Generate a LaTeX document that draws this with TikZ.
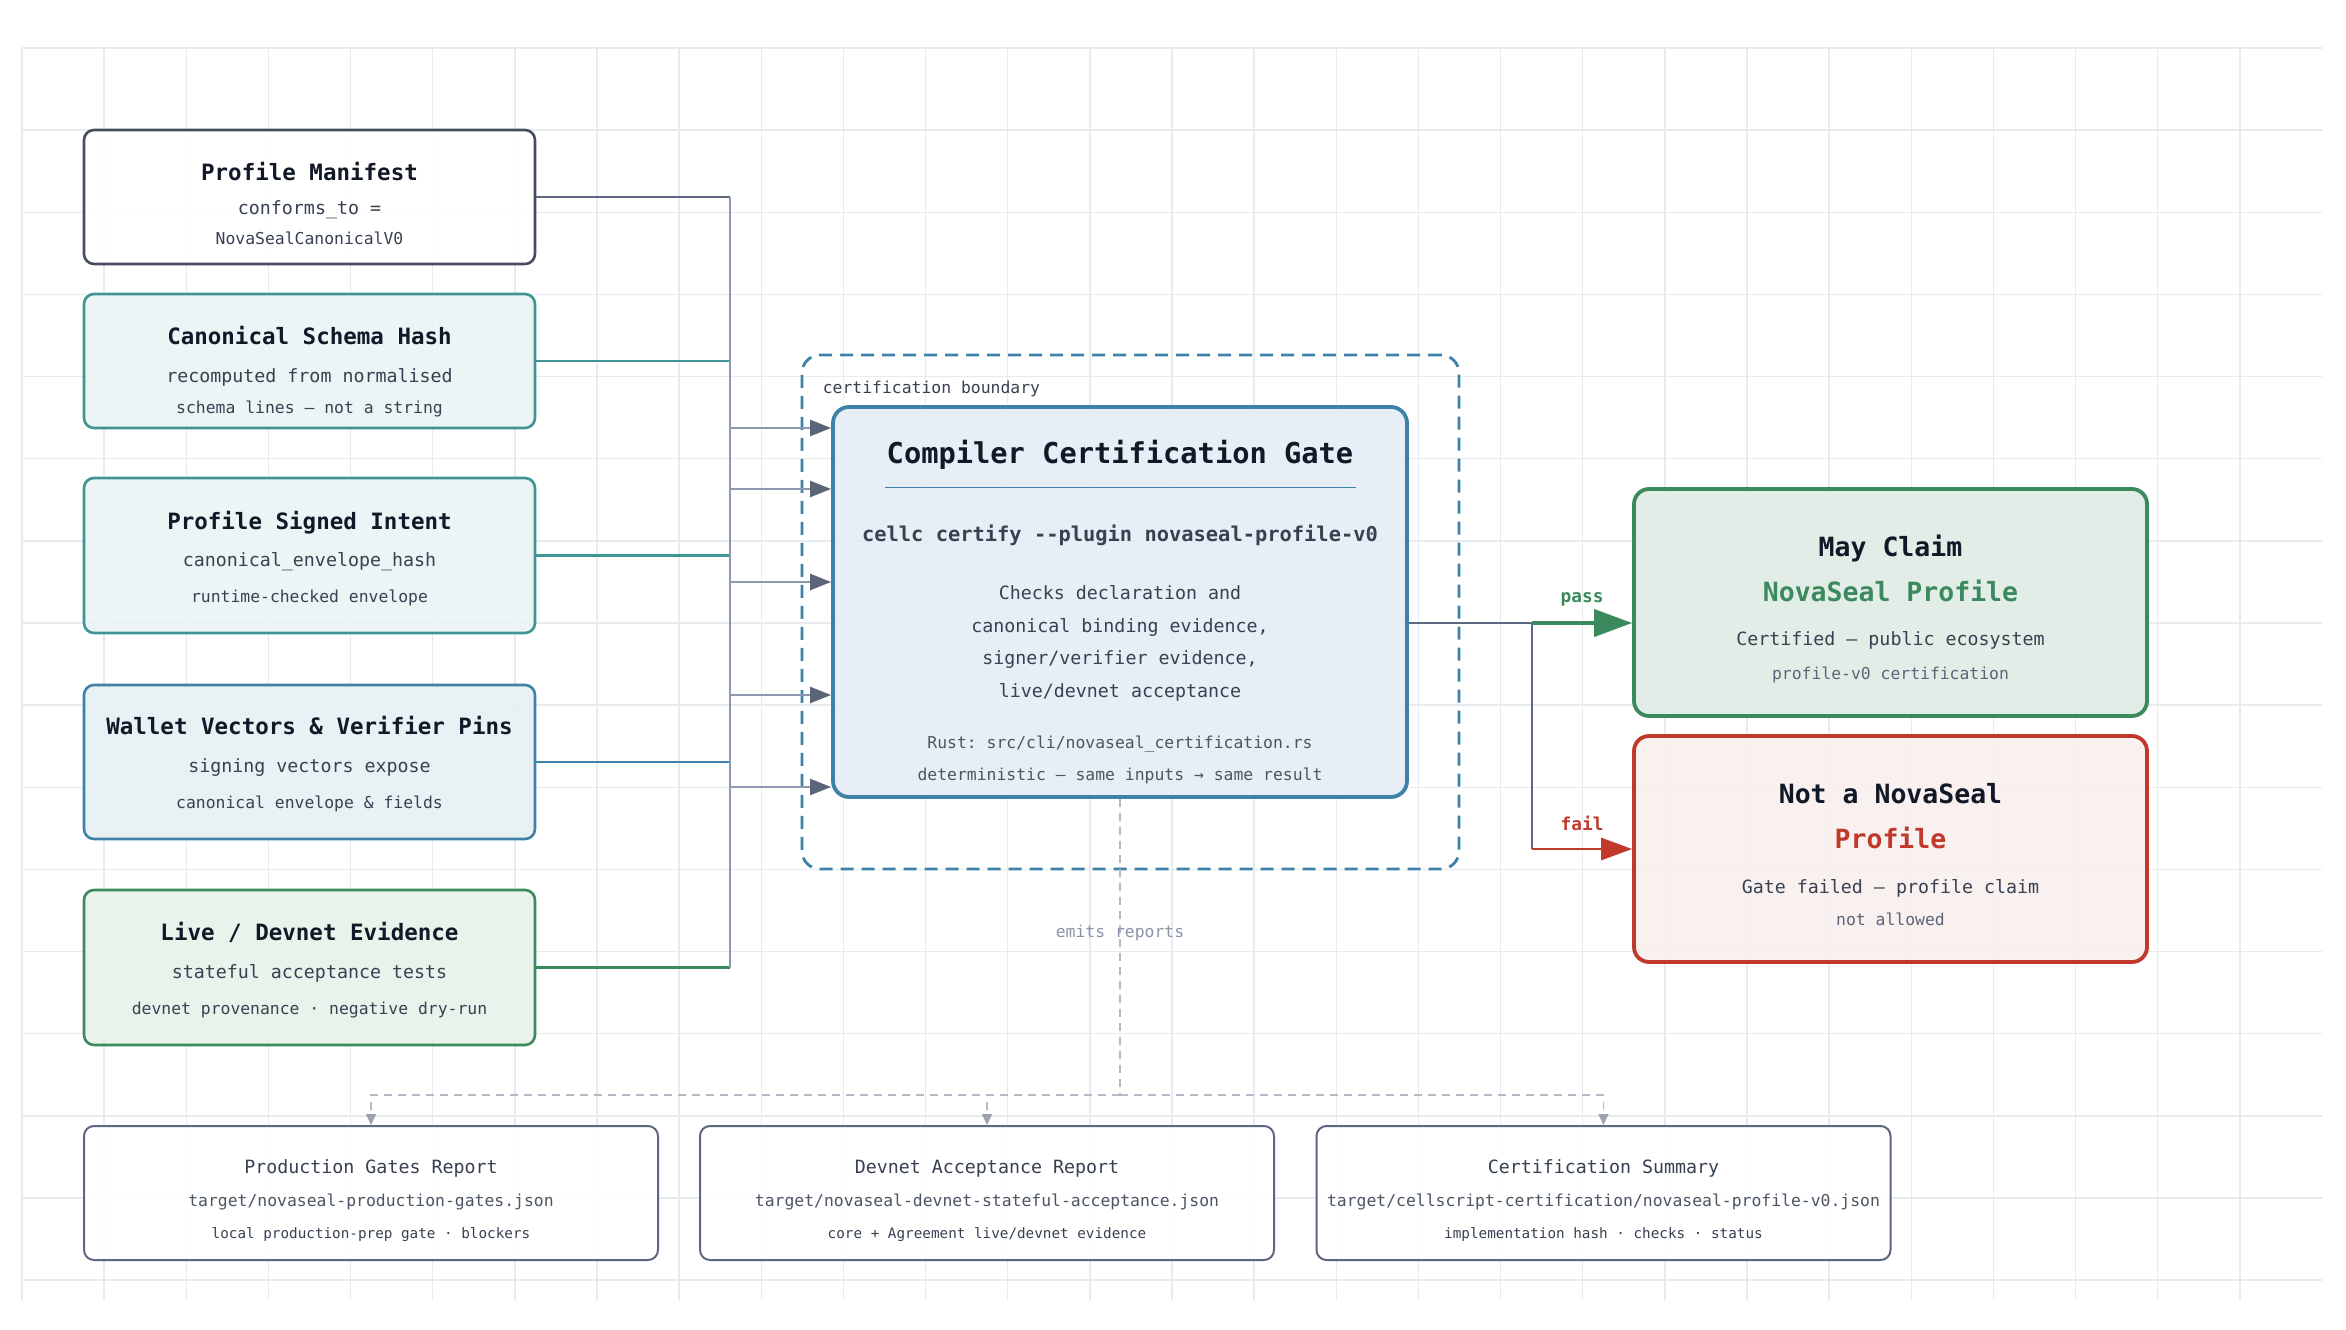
\documentclass[tikz,border=0pt]{standalone}
\usepackage{fontspec}
\setmonofont{DejaVu Sans Mono}
\usepackage{tikz}
\usetikzlibrary{positioning, arrows.meta, calc}

\definecolor{ink}{HTML}{111827}
\definecolor{slate}{HTML}{374151}
\definecolor{muted}{HTML}{4B5563}
\definecolor{soft}{HTML}{5B6478}
\definecolor{faint}{HTML}{8A93A8}
\definecolor{gridc}{HTML}{E7EBEF}
\definecolor{frame}{HTML}{464D5F}
\definecolor{tealline}{HTML}{3F9593}
\definecolor{tealfill}{HTML}{EAF3F4}
\definecolor{blueline}{HTML}{3E82A8}
\definecolor{bluefill}{HTML}{E8F0F5}
\definecolor{gatefill}{HTML}{E5EDF5}
\definecolor{greenline}{HTML}{3B8A5E}
\definecolor{greenfill}{HTML}{E8F1EB}
\definecolor{claimfill}{HTML}{E1ECE5}
\definecolor{redline}{HTML}{C0392B}
\definecolor{redfill}{HTML}{F9F0EF}
\definecolor{busc}{HTML}{8D97AF}
\definecolor{headc}{HTML}{5B6479}
\definecolor{wirec}{HTML}{5E6780}
\definecolor{dashc}{HTML}{B5BAC6}
\definecolor{tipc}{HTML}{9CA3AF}

\begin{document}
\begin{tikzpicture}[
  x=1pt, y=-1pt, font=\ttfamily,
  gridline/.style={draw=gridc, line width=1.4pt},
  card/.style={draw, rounded corners=10pt, line width=2.6pt,
    minimum width=451pt, fill opacity=0.9},
  gatebox/.style={draw=blueline, fill=gatefill, fill opacity=0.92,
    line width=3.8pt, rounded corners=16pt, minimum width=574pt,
    minimum height=390pt},
  boundary/.style={draw=blueline, line width=2.8pt,
    dash pattern=on 13pt off 8pt, rounded corners=18pt,
    minimum width=657pt, minimum height=514pt},
  outcome/.style={line width=3.8pt, rounded corners=15pt,
    minimum width=513pt, fill opacity=0.92},
  report/.style={draw=wirec, fill=white, fill opacity=0.9, line width=2pt,
    rounded corners=10pt, minimum width=574pt, minimum height=134pt},
  hd/.style={anchor=base, inner sep=0pt, text=ink,
    font=\ttfamily\bfseries\fontsize{22.5}{27}\selectfont},
  big/.style={anchor=base, inner sep=0pt, text=ink,
    font=\ttfamily\bfseries\fontsize{26.5}{32}\selectfont},
  gttl/.style={anchor=base, inner sep=0pt, text=ink,
    font=\ttfamily\bfseries\fontsize{28.7}{34}\selectfont},
  cmd/.style={anchor=base, inner sep=0pt, text=slate,
    font=\ttfamily\bfseries\fontsize{20.4}{24}\selectfont},
  sub/.style={anchor=base, inner sep=0pt, text=slate,
    font=\ttfamily\fontsize{18.3}{22}\selectfont},
  fine/.style={anchor=base, inner sep=0pt, text=slate,
    font=\ttfamily\fontsize{16.4}{20}\selectfont},
  micro/.style={anchor=base, inner sep=0pt, text=slate,
    font=\ttfamily\fontsize{14.3}{17}\selectfont},
  flag/.style={inner sep=0pt, font=\ttfamily\bfseries\fontsize{17.8}{21}\selectfont},
  link/.style={line width=2.2pt},
  busline/.style={draw=busc, line width=2.4pt},
  feed/.style={draw=busc, line width=2.2pt,
    -{Triangle[length=21pt, width=16pt, color=headc]}},
  wire/.style={draw=wirec, line width=2.6pt},
  passarrow/.style={draw=greenline, line width=4pt,
    -{Triangle[length=38pt, width=27pt]}},
  failarrow/.style={draw=redline, line width=2.8pt,
    -{Triangle[length=31pt, width=22pt]}},
  emit/.style={draw=dashc, line width=1.6pt, dash pattern=on 8pt off 6pt},
  emittip/.style={-{Triangle[length=11pt, width=10pt, color=tipc]}},
]
  % backdrop and grid
  \fill[white] (0,0) rectangle (2346,1330);
  \useasboundingbox (0,0) rectangle (2346,1330);
  \foreach \i in {0,...,27}
    \draw[gridline] ({22+82.14*\i},48) -- ({22+82.14*\i},1300);
  \foreach \j in {0,...,15}
    \draw[gridline] (22,{48+82.14*\j}) -- (2322,{48+82.14*\j});

  % certification boundary
  \node[boundary] (bnd) at (1130.5,612) {};
  \node[fine, anchor=base west] (bnd-l) at ($(bnd.north west)+(22,40)$)
    {certification boundary};

  % evidence inputs
  \node[card, draw=frame, fill=white, minimum height=134pt] (pm) at (309.5,197) {};
  \node[hd] (pm-t) at ($(pm.north)+(0,52)$) {Profile Manifest};
  \node[sub] (pm-a) at ($(pm.north)+(0,86)$) {conforms\_to =};
  \node[fine] (pm-b) at ($(pm.north)+(0,116)$) {NovaSealCanonicalV0};

  \node[card, draw=tealline, fill=tealfill, minimum height=134pt] (csh) at (309.5,361) {};
  \node[hd] (csh-t) at ($(csh.north)+(0,52)$) {Canonical Schema Hash};
  \node[sub] (csh-a) at ($(csh.north)+(0,90)$) {recomputed from normalised};
  \node[fine] (csh-b) at ($(csh.north)+(0,121)$) {schema lines — not a string};

  \node[card, draw=tealline, fill=tealfill, minimum height=155pt] (psi) at (309.5,555.5) {};
  \node[hd] (psi-t) at ($(psi.north)+(0,53)$) {Profile Signed Intent};
  \node[sub] (psi-a) at ($(psi.north)+(0,90)$) {canonical\_envelope\_hash};
  \node[fine] (psi-b) at ($(psi.north)+(0,126)$) {runtime-checked envelope};

  \node[card, draw=blueline, fill=bluefill, minimum height=154pt] (wvp) at (309.5,762) {};
  \node[hd] (wvp-t) at ($(wvp.north)+(0,51)$) {Wallet Vectors \& Verifier Pins};
  \node[sub] (wvp-a) at ($(wvp.north)+(0,89)$) {signing vectors expose};
  \node[fine] (wvp-b) at ($(wvp.north)+(0,125)$) {canonical envelope \& fields};

  \node[card, draw=greenline, fill=greenfill, minimum height=155pt] (lde) at (309.5,967.5) {};
  \node[hd] (lde-t) at ($(lde.north)+(0,52)$) {Live / Devnet Evidence};
  \node[sub] (lde-a) at ($(lde.north)+(0,90)$) {stateful acceptance tests};
  \node[fine] (lde-b) at ($(lde.north)+(0,126)$) {devnet provenance · negative dry-run};

  % collector bus
  \coordinate (bus) at (730,0);
  \draw[link, draw=wirec] (pm.east) -- (pm.east -| bus);
  \draw[link, draw=tealline] (csh.east) -- (csh.east -| bus);
  \draw[link, draw=tealline] (psi.east) -- (psi.east -| bus);
  \draw[link, draw=blueline] (wvp.east) -- (wvp.east -| bus);
  \draw[link, draw=greenline] (lde.east) -- (lde.east -| bus);
  \draw[busline] (pm.east -| bus) -- (lde.east -| bus);

  % the gate
  \node[gatebox] (gate) at (1120,602) {};
  \node[gttl] (gate-t) at ($(gate.north)+(0,58)$) {Compiler Certification Gate};
  \draw[blueline, line width=1pt] ($(gate.north)+(-235.5,82)$) -- ($(gate.north)+(235.5,82)$);
  \node[cmd] (gate-c) at ($(gate.north)+(0,136)$) {cellc certify -{}-plugin novaseal-profile-v0};
  \node[sub] (gate-b1) at ($(gate.north)+(0,194)$) {Checks declaration and};
  \node[sub] (gate-b2) at ($(gate.north)+(0,227)$) {canonical binding evidence,};
  \node[sub] (gate-b3) at ($(gate.north)+(0,259)$) {signer/verifier evidence,};
  \node[sub] (gate-b4) at ($(gate.north)+(0,292)$) {live/devnet acceptance};
  \node[fine, text=muted] (gate-f1) at ($(gate.north)+(0,343)$) {Rust: src/cli/novaseal\_certification.rs};
  \node[fine, text=muted] (gate-f2) at ($(gate.north)+(0,375)$) {deterministic — same inputs → same result};

  \foreach \y [count=\i] in {428,489,582,695,787}
    \coordinate (in\i) at (730,\y);
  \foreach \i in {1,...,5}
    \draw[feed] (in\i) -- (in\i -| gate.west);

  % outcomes
  \node[outcome, draw=greenline, fill=claimfill, minimum height=227pt] (may) at (1890.5,602.5) {};
  \node[big] (may-t) at ($(may.north)+(0,69)$) {May Claim};
  \node[big, text=greenline] (may-s) at ($(may.north)+(0,114)$) {NovaSeal Profile};
  \node[sub] (may-a) at ($(may.north)+(0,158)$) {Certified — public ecosystem};
  \node[fine, text=soft] (may-b) at ($(may.north)+(0,192)$) {profile-v0 certification};

  \node[outcome, draw=redline, fill=redfill, minimum height=226pt] (nf) at (1890.5,849) {};
  \node[big] (nf-t) at ($(nf.north)+(0,69)$) {Not a NovaSeal};
  \node[big, text=redline] (nf-s) at ($(nf.north)+(0,114)$) {Profile};
  \node[sub] (nf-a) at ($(nf.north)+(0,159)$) {Gate failed — profile claim};
  \node[fine, text=soft] (nf-b) at ($(nf.north)+(0,191)$) {not allowed};

  \coordinate (split) at (1532,623);
  \draw[wire] (split -| gate.east) -- (split) -- (split |- nf.west);
  \draw[passarrow] (split) -- node[flag, above=15pt, text=greenline] (pass-l) {pass} (split -| may.west);
  \draw[failarrow] (split |- nf.west) -- node[flag, above=17pt, text=redline] (fail-l) {fail} (nf.west);

  % reports
  \node[report] (r1) at (371,1193) {};
  \node[sub] (r1-t) at ($(r1.north)+(0,48)$) {Production Gates Report};
  \node[fine, text=muted] (r1-p) at ($(r1.north)+(0,81)$) {target/novaseal-production-gates.json};
  \node[micro] (r1-n) at ($(r1.north)+(0,113)$) {local production-prep gate · blockers};

  \node[report] (r2) at (987,1193) {};
  \node[sub] (r2-t) at ($(r2.north)+(0,48)$) {Devnet Acceptance Report};
  \node[fine, text=muted] (r2-p) at ($(r2.north)+(0,81)$) {target/novaseal-devnet-stateful-acceptance.json};
  \node[micro] (r2-n) at ($(r2.north)+(0,113)$) {core + Agreement live/devnet evidence};

  \node[report] (r3) at (1603.5,1193) {};
  \node[sub] (r3-t) at ($(r3.north)+(0,48)$) {Certification Summary};
  \node[fine, text=muted] (r3-p) at ($(r3.north)+(0,81)$) {target/cellscript-certification/novaseal-profile-v0.json};
  \node[micro] (r3-n) at ($(r3.north)+(0,113)$) {implementation hash · checks · status};

  \coordinate (rail) at (1120,1095);
  \draw[emit] (gate.south) -- (rail);
  \foreach \r in {r1,r2,r3}
    \draw[emit, emittip] (rail) -| (\r.north);
  \node[fine, text=faint] (emit-l) at (1120,937) {emits reports};
\end{tikzpicture}
\end{document}
